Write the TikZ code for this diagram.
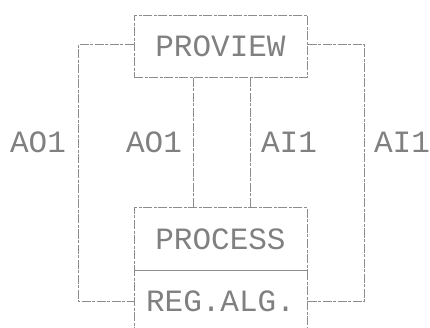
\documentclass[tikz,border=0pt]{standalone}
\usepackage{fontspec}
\setmonofont{Liberation Mono}
\begin{document}
\begin{tikzpicture}[x=1pt,y=-1pt,
  ink/.style={draw=black!45, line width=1pt, dash pattern=on 9pt off 1.5pt on 3pt off 1.5pt},
  lbl/.style={text=black!50, font=\fontsize{31}{31}\selectfont\ttfamily, inner sep=0pt},
  boxn/.style={ink, lbl, minimum width=173pt, minimum height=62pt, anchor=center}]
\useasboundingbox (0,0) rectangle (430,328);
\clip (0,0) rectangle (430,328);
\node[boxn] (pv) at (220.5,46.5) {PROVIEW};
\node[boxn] (pr) at (220.5,239) {PROCESS};
\node[boxn] (ra) at (220.5,301) {REG.ALG.};
\coordinate (l1) at (78,45);
\coordinate (l2) at (78,301);
\coordinate (r1) at (364,45);
\coordinate (r2) at (364,301);
\draw[ink] (pv.west |- l1) -- (l1) -- (l2) -- (ra.west |- l2);
\draw[ink] (pv.east |- r1) -- (r1) -- (r2) -- (ra.east |- r2);
\draw[ink] (pv.south -| 193,0) -- (pr.north -| 193,0);
\draw[ink] (pv.south -| 250,0) -- (pr.north -| 250,0);
\node[lbl] (a1) at (38,142) {AO1};
\node[lbl] (a2) at (154,142) {AO1};
\node[lbl] (a3) at (289,142) {AI1};
\node[lbl] (a4) at (402,142) {AI1};
\end{tikzpicture}
\end{document}
